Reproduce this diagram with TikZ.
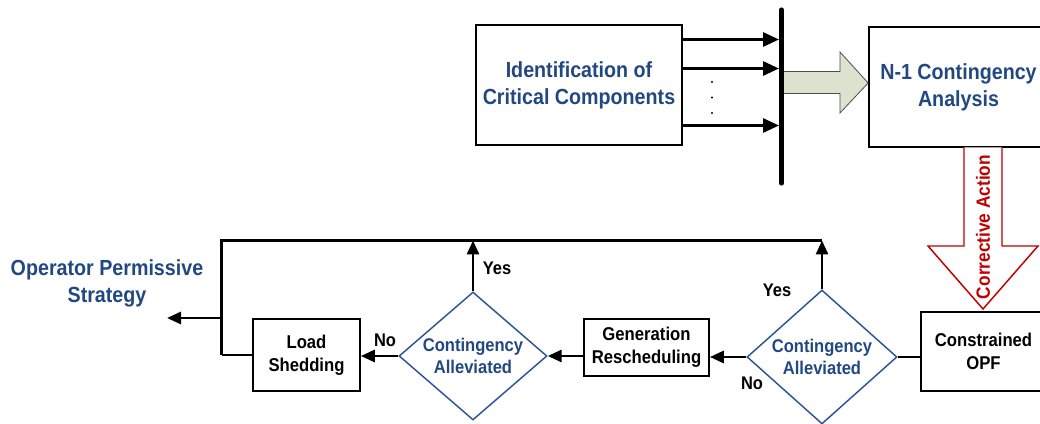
\documentclass[tikz,border=0pt]{standalone}
\usepackage{fontspec}
\setmainfont[FakeStretch=0.9]{Liberation Sans}
\usetikzlibrary{shapes.geometric,arrows.meta}
\definecolor{tblue}{RGB}{33,72,128}
\definecolor{dblue}{RGB}{47,84,150}
\definecolor{cred}{RGB}{192,0,0}
\definecolor{afill}{RGB}{221,226,206}
\tikzset{
 box/.style={draw=black, line width=1.3pt, rectangle, inner sep=0pt, align=center, fill=white},
 bigtxt/.style={font=\fontsize{16.4}{20.25}\selectfont\bfseries, text=tblue},
 smtxt/.style={font=\fontsize{13.9}{17.25}\selectfont\bfseries, text=black},
 dectxt/.style={font=\fontsize{13.8}{16.5}\selectfont\bfseries, text=tblue},
 decision/.style={diamond, draw=dblue, line width=1.1pt, inner sep=0pt, aspect=1.16, align=center, fill=white, dectxt},
 conn/.style={line width=2.2pt, draw=black},
 bigtip/.style={-{Triangle[length=12pt,width=10.5pt]}},
 smtip/.style={-{Triangle[length=10.5pt,width=9pt]}},
 lbl/.style={font=\fontsize{13.7}{15}\selectfont\bfseries, inner sep=0pt},
}
\begin{document}
\begin{tikzpicture}[x=0.75pt,y=-0.75pt]
\useasboundingbox (0,0) rectangle (1040,424);
\clip (0,0) rectangle (1040,424);

% coordinates for the top loop
\coordinate (tr) at (822,240.5);
\coordinate (tl) at (221.5,240.5);
\coordinate (tlL) at (473,240.5);
\coordinate (out) at (167,318);

% top loop line (drawn first, under nodes)
\draw[conn, line join=miter] (tr) -- (tl) -- (221.5,355) coordinate (lc);

% nodes
\node[box, bigtxt, minimum width=154.5pt, minimum height=90pt] (ident) at (579,85) {Identification of\\Critical Components};
\node[box, bigtxt, minimum width=134.25pt, minimum height=90pt] (n1) at (958.5,87) {N-1 Contingency\\Analysis};
\node[box, smtxt, minimum width=93.75pt, minimum height=59.25pt] (opf) at (983.5,351.5) {Constrained\\OPF};
\node[box, smtxt, minimum width=93.75pt, minimum height=42.75pt] (gen) at (646.5,347.5) {Generation\\Rescheduling};
\node[box, smtxt, minimum width=80.25pt, minimum height=54pt] (load) at (306.5,355) {Load\\Shedding};
\node[decision, minimum width=111pt, minimum height=96pt] (dL) at (473,356) {Contingency\\Alleviated};
\node[decision, minimum width=112.5pt, minimum height=100.5pt] (dR) at (822,357) {Contingency\\Alleviated};
\node[bigtxt, align=center] (ops) at (107,283) {Operator Permissive\\Strategy};

% bus bar and feeding arrows
\coordinate (bartop) at (781.5,10);
\coordinate (barbot) at (781.5,183);
\coordinate (b1) at (779,39.5);
\coordinate (b2) at (779,68.5);
\coordinate (b3) at (779,125.5);
\draw[conn, bigtip] (ident.east |- b1) -- (b1);
\draw[conn, bigtip] (ident.east |- b2) -- (b2);
\draw[conn, bigtip] (ident.east |- b3) -- (b3);
\draw[line width=3.9pt, line cap=round] (bartop) -- (barbot);
\foreach \yy in {82,97.5,113} \fill (712,\yy) circle (0.9pt);

% big block arrow to N-1 analysis
\draw[draw=black!70, line width=0.6pt, fill=afill, line join=miter]
  (784,71.5) -- (840,71.5) -- (840,52) -- (n1.west |- 0,83) -- (840,113) -- (840,93.5) -- (784,93.5);

% corrective action arrow
\draw[draw=cred, line width=1.1pt, fill=white, line join=miter]
  (964,147.5) -- (964,246) -- (928,246) -- (983,309) -- (1038,246) -- (1002,246) -- (1002,147.5);
\node[rotate=90, text=cred, font=\fontsize{14.4}{16}\selectfont\bfseries] (ca) at (983,227) {Corrective Action};

% lower flow
\draw[conn] (opf.west |- dR.east) -- (dR.east);
\draw[conn, smtip] (dR.west) -- (dR.west -| gen.east);
\draw[conn, smtip] (gen.west |- dL.east) -- (dL.east);
\draw[conn, smtip] (dL.west) -- (dL.west -| load.east);
\draw[conn, smtip] (dL.north) -- (tlL);
\draw[conn, smtip] (dR.north) -- (tr);
\draw[conn] (lc) -- (load.west);
\draw[conn, smtip] (tl |- out) -- (out);

% labels
\node[lbl] (yesL) at (497,268) {Yes};
\node[lbl] (yesR) at (777,290) {Yes};
\node[lbl] (noL) at (385,340) {No};
\node[lbl] (noR) at (752,383) {No};
\end{tikzpicture}
\end{document}
